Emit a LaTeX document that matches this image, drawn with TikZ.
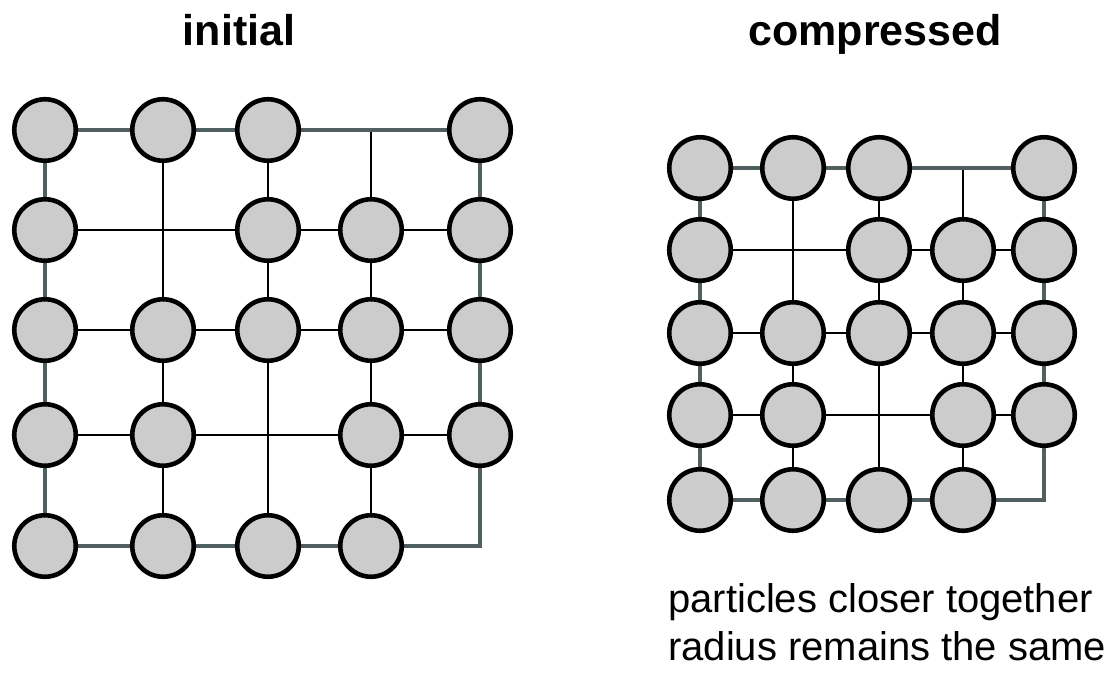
\documentclass[tikz,border=0pt]{standalone}
\usepackage{fontspec}
\setmainfont{Liberation Sans}
\definecolor{edgegray}{RGB}{80,96,96}
\definecolor{ballfill}{RGB}{204,204,204}
\begin{document}
\begin{tikzpicture}[x=1pt,y=-1pt,
  ball/.style={circle, draw=black, fill=ballfill, line width=4.6pt, minimum size=61.5pt, inner sep=0pt},
  border/.style={draw=edgegray, line width=4pt},
  inner/.style={draw=black, line width=2.8pt},
  heading/.style={font=\bfseries\fontsize{43}{50}\selectfont, anchor=base, inner sep=0pt},
  note/.style={font=\fontsize{40}{48}\selectfont, anchor=base west, inner sep=0pt}]
\useasboundingbox (0,0) rectangle (1110,676);

% grid points
\foreach \c/\x in {1/45,2/163,3/268,4/371,5/480}
  \foreach \r/\y in {1/130,2/230,3/330,4/435,5/546}
    \coordinate (L\c\r) at (\x,\y);
\foreach \c/\x in {1/700,2/793,3/879,4/963,5/1044}
  \foreach \r/\y in {1/168,2/250,3/333,4/415,5/500}
    \coordinate (R\c\r) at (\x,\y);

% interior lines and borders
\foreach \g in {L,R}{
  \foreach \r in {2,3,4} \draw[inner] (\g1\r) -- (\g5\r);
  \foreach \c in {2,3,4} \draw[inner] (\g\c1) -- (\g\c5);
  \draw[border] (\g11) -- (\g51) -- (\g55) -- (\g15) -- cycle;
}

% particles
\foreach \g in {L,R}{
  \foreach \p in {11,21,31,51,12,32,42,52,13,23,33,43,53,14,24,44,54,15,25,35,45}
    \node[ball] (\g b\p) at (\g\p) {};
}

% texts
\node[heading] (h1) at (239,46) {initial};
\node[heading] (h2) at (875,46) {compressed};
\node[note] (t1) at (668,612) {particles closer together};
\node[note] (t2) at (668,660) {radius remains the same};
\end{tikzpicture}
\end{document}
